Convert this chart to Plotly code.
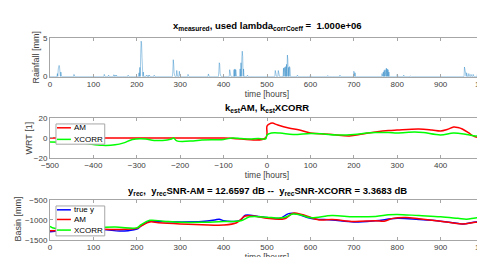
import plotly.graph_objects as go
import numpy as np

# ---------------- data ----------------
# rainfall events: hour -> mm (zero elsewhere)
rain_hours = [17, 19, 20, 21, 22, 23, 25, 55, 56, 125, 135, 147, 150, 153, 180,
              205, 207, 209, 210, 211, 212, 213, 215, 222, 226, 229, 240,
              283, 284, 285, 286, 292, 298, 318, 365,
              389, 390, 391, 392, 414, 415, 424, 426, 428,
              438, 440, 442, 443, 444, 446, 455,
              519, 520, 526, 527, 538, 540, 543, 545, 547, 548, 550, 552, 553, 570,
              600, 640, 668, 700, 701, 703,
              765, 768, 770, 772, 775, 777, 779, 781, 800, 815, 830,
              955, 956, 957, 960, 965, 970, 975, 985, 988, 990, 995]
rain_mm = [0.4, 1.0, 1.3, 1.45, 1.2, 0.6, 0.6, 0.3, 0.25, 0.3, 0.2, 0.25, 0.2, 0.2, 0.2,
           0.5, 1.2, 3.0, 4.6, 4.3, 2.5, 1.2, 0.6, 0.2, 0.2, 0.2, 0.2,
           0.6, 2.2, 1.6, 0.5, 0.8, 0.7, 0.3, 0.35,
           0.6, 1.8, 1.6, 0.4, 0.9, 0.5, 0.9, 1.0, 0.9,
           1.0, 1.8, 2.4, 3.3, 2.6, 1.0, 0.2,
           0.8, 0.4, 0.8, 0.5, 1.1, 1.2, 1.3, 1.6, 2.8, 2.2, 1.2, 1.3, 1.1, 0.2,
           0.2, 0.15, 0.2, 0.7, 0.6, 0.5,
           0.4, 0.6, 0.8, 0.9, 1.1, 1.0, 0.9, 0.6, 0.3, 0.2, 0.1,
           1.25, 0.9, 0.5, 0.5, 0.4, 0.3, 0.3, 0.4, 0.3, 0.3, 0.2]

# kernel estimates
k_am_t = [-500, -300, -100, -3, 0, 5, 12, 25, 50, 75, 100, 150, 190, 220, 250, 280,
          300, 350, 380, 400, 415, 430, 440, 450, 465, 475, 485, 500]
k_am_v = [0, 0, 0, 0, 12, 14, 15, 13, 10, 8, 5, 3.5, 2, 4, 6, 7.5,
          8, 9, 8, 7, 8.5, 11, 10.5, 9, 5, 2, 0.5, 0.5]
k_xc_t = [-500, -450, -420, -380, -350, -330, -310, -280, -260, -230, -220, -215, -208,
          -170, -150, -100, -80, -60, -40, -20, -10, -3, 0, 10, 30, 60, 100, 130,
          160, 200, 230, 250, 280, 300, 340, 360, 400, 430, 460, 480, 500]
k_xc_v = [-4, -4.5, -5.5, -7.5, -7, -5, -1.5, -1, -2.5, -2, -1, 0, -3,
          -3, -2, -1.5, 0, -0.5, -1, -0.5, -1, -1, 3, 5, 5, 3.5, 4.5, 4,
          3, 3.5, 5, 5.5, 5.5, 5, 6, 5.5, 3, 5, 3.5, 2, 1.5]

# reconstructed basin level
y_true_t = [0, 20, 50, 100, 130, 160, 180, 200, 210, 230, 250, 300, 350, 380, 390, 400,
            430, 440, 450, 480, 510, 530, 550, 570, 600, 650, 700, 750, 800, 850, 900,
            930, 950, 980, 1000]
y_true_v = [-1300, -1270, -1240, -1230, -1250, -1280, -1270, -1230, -1150, -1030, -1040,
            -1050, -1040, -1000, -980, -1020, -1030, -1000, -880, -910, -950, -960, -840,
            -850, -960, -1000, -1050, -1020, -960, -990, -1030, -1070, -1100, -1050, -1020]
y_am_t = [0, 50, 100, 150, 200, 210, 230, 250, 300, 350, 400, 430, 450, 480, 500, 540,
          560, 580, 620, 650, 700, 750, 770, 790, 820, 850, 900, 950, 980, 1000]
y_am_v = [-1270, -1260, -1230, -1240, -1210, -1150, -1050, -1070, -1100, -1120, -1130,
          -1070, -900, -920, -960, -970, -830, -860, -1000, -990, -1040, -1020, -1030,
          -960, -940, -970, -1030, -1100, -1060, -1050]
y_xc_t = [0, 10, 50, 150, 200, 210, 230, 260, 300, 350, 400, 440, 460, 500, 520, 540,
          560, 580, 600, 650, 700, 750, 780, 800, 850, 900, 940, 960, 980, 1000]
y_xc_v = [-1160, -1210, -1210, -1180, -1200, -1120, -1010, -1030, -1060, -1060, -1040,
          -1020, -920, -930, -950, -940, -850, -880, -940, -890, -920, -910, -870, -860,
          -890, -920, -960, -980, -950, -940]

rain_t = np.arange(0, 1001)
rain_v = np.zeros(len(rain_t))
for h, v in zip(rain_hours, rain_mm):
    rain_v[h] = v

# ---------------- figure ----------------
W, H = 485, 257
L, R = 42, 478

def ydom(top, bot):
    return [1 - bot / H, 1 - top / H]

FONT = "Liberation Sans, Arial, Helvetica, sans-serif"
AXC = "#a6a6a6"
TXC = "#404040"
BLUE = "rgba(0,114,189,0.75)"
RED = "#ff0000"
GREEN = "#00ff00"
DBLUE = "#0000ff"

fig = go.Figure()
fig.add_trace(go.Scatter(x=rain_t, y=rain_v, mode="lines", line=dict(color=BLUE, width=0.5),
                         xaxis="x", yaxis="y", showlegend=False))
fig.add_trace(go.Scatter(x=k_am_t, y=k_am_v, mode="lines", line=dict(color=RED, width=1.5),
                         xaxis="x2", yaxis="y2", showlegend=False, line_shape="spline"))
fig.add_trace(go.Scatter(x=k_xc_t, y=k_xc_v, mode="lines", line=dict(color=GREEN, width=1.5),
                         xaxis="x2", yaxis="y2", showlegend=False, line_shape="spline"))
fig.add_trace(go.Scatter(x=y_true_t, y=y_true_v, mode="lines", line=dict(color=DBLUE, width=1.5),
                         xaxis="x3", yaxis="y3", showlegend=False, line_shape="spline"))
fig.add_trace(go.Scatter(x=y_am_t, y=y_am_v, mode="lines", line=dict(color=RED, width=1.5),
                         xaxis="x3", yaxis="y3", showlegend=False, line_shape="spline"))
fig.add_trace(go.Scatter(x=y_xc_t, y=y_xc_v, mode="lines", line=dict(color=GREEN, width=1.5),
                         xaxis="x3", yaxis="y3", showlegend=False, line_shape="spline"))

common_ax = dict(showline=True, mirror="ticks", linecolor=AXC, linewidth=1, ticks="inside",
                 ticklen=3, tickcolor=AXC, showgrid=False, zeroline=False,
                 ticklabeloverflow="allow",
                 tickfont=dict(family=FONT, size=8, color=TXC))

xt = dict(text="time [hours]", font=dict(family=FONT, size=8.5, color=TXC), standoff=1)

fig.update_layout(
    width=W, height=H, margin=dict(l=L, r=W - R, t=0, b=0),
    paper_bgcolor="white", plot_bgcolor="white", showlegend=False,
    font=dict(family=FONT, size=8, color=TXC),
    xaxis=dict(common_ax, domain=[0, 1], range=[0, 1000], dtick=100, anchor="y", title=xt),
    yaxis=dict(common_ax, domain=ydom(27, 67), range=[0, 5], dtick=5, anchor="x"),
    xaxis2=dict(common_ax, domain=[0, 1], range=[-500, 500], dtick=100, anchor="y2", title=xt),
    yaxis2=dict(common_ax, domain=ydom(110, 151), range=[-20, 20], dtick=20, anchor="x2"),
    xaxis3=dict(common_ax, domain=[0, 1], range=[0, 1000], dtick=100, anchor="y3", title=xt),
    yaxis3=dict(common_ax, domain=ydom(195, 236), range=[-1500, -500], dtick=500, anchor="x3"),
)

def px(xpx):
    return (xpx - L) / (R - L)

def py(ypx):
    return 1 - ypx / H

ann = []
titles = [
    ("<b>x<sub>measured</sub>, used lambda<sub>corrCoeff</sub> =  1.000e+06</b>", 15),
    ("<b>k<sub>est</sub>AM, k<sub>est</sub>XCORR</b>", 100),
    ("<b>y<sub>rec</sub>,  y<sub>rec</sub>SNR-AM = 12.6597 dB --  y<sub>rec</sub>SNR-XCORR = 3.3683 dB</b>", 185),
]
for t, ypos in titles:
    ann.append(dict(text=t, x=0.5, y=py(ypos), xref="paper", yref="paper", showarrow=False,
                    xanchor="center", yanchor="middle",
                    font=dict(family=FONT, size=9.5, color="#000000")))

ytitles = [("Rainfall [mm]", 28, 47), ("WRT [1]", 21, 131), ("Basin [mm]", 10, 215)]
for t, xpos, ypos in ytitles:
    ann.append(dict(text=t, x=px(xpos), y=py(ypos), xref="paper", yref="paper", showarrow=False,
                    xanchor="center", yanchor="middle", textangle=-90,
                    font=dict(family=FONT, size=9, color=TXC)))

shapes = []
def legend(top, bot, items):
    shapes.append(dict(type="rect", xref="paper", yref="paper", x0=px(48), x1=px(97),
                       y0=py(bot), y1=py(top), line=dict(color=AXC, width=1),
                       fillcolor="white", layer="above"))
    for name, color, ypos in items:
        shapes.append(dict(type="line", xref="paper", yref="paper", x0=px(49), x1=px(63),
                           y0=py(ypos), y1=py(ypos), line=dict(color=color, width=1.5),
                           layer="above"))
        ann.append(dict(text=name, x=px(64), y=py(ypos), xref="paper", yref="paper",
                        showarrow=False, xanchor="left", yanchor="middle",
                        font=dict(family=FONT, size=8, color="#000000")))

legend(116, 137, [("AM", RED, 120), ("XCORR", GREEN, 132)])
legend(201, 232, [("true y", DBLUE, 205), ("AM", RED, 215), ("XCORR", GREEN, 226)])

fig.update_layout(annotations=ann, shapes=shapes)
fig.write_html("out.html")
